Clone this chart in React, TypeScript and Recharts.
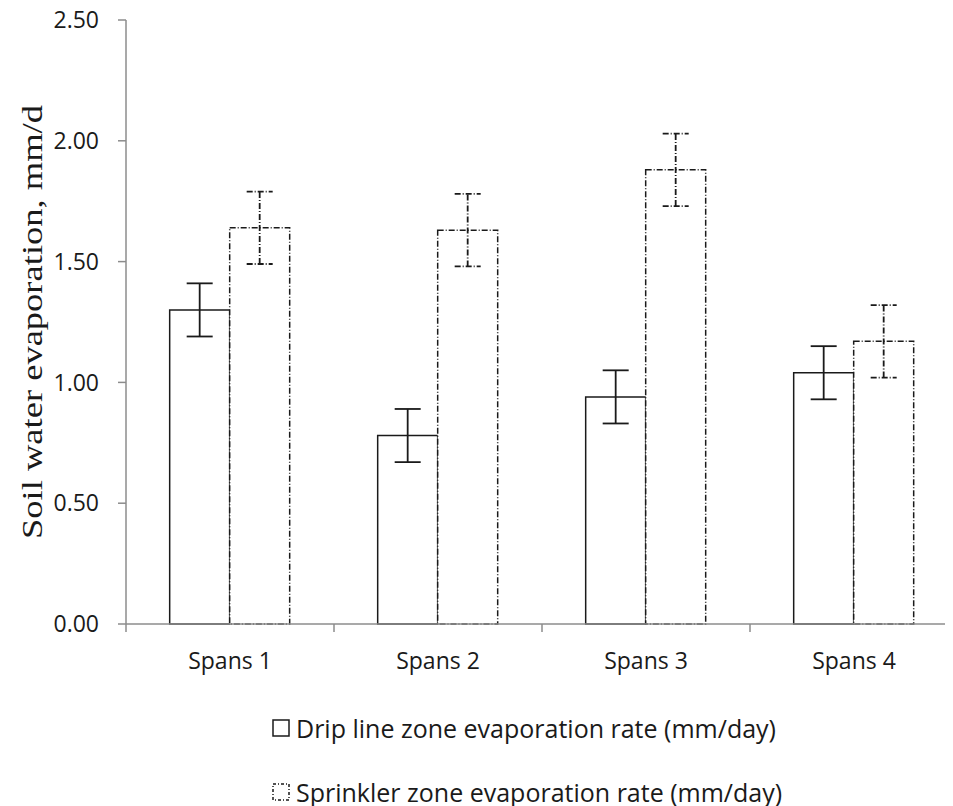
import { BarChart, Bar, XAxis, YAxis, ErrorBar, Legend } from 'recharts';

// Evaporation rate per span, mm/day, with symmetric error
const spans = ['Spans 1', 'Spans 2', 'Spans 3', 'Spans 4'];
const dripRate = [1.3, 0.78, 0.94, 1.04];
const dripErr = [0.11, 0.11, 0.11, 0.11];
const sprinklerRate = [1.64, 1.63, 1.88, 1.17];
const sprinklerErr = [0.15, 0.15, 0.15, 0.15];
const yTicks = [0, 0.5, 1, 1.5, 2, 2.5];

const seriesNames = {
  drip: 'Drip line zone evaporation rate (mm/day)',
  sprinkler: 'Sprinkler zone evaporation rate (mm/day)',
};

const data = spans.map((name, i) => ({
  name,
  drip: dripRate[i],
  dripErr: dripErr[i],
  sprinkler: sprinklerRate[i],
  sprinklerErr: sprinklerErr[i],
}));

const FONT = "'Open Sans', sans-serif";
const INK = '#1a1a1a';
const AXIS = '#8c8c8c';
const DASH = '6 2 1 2';

const CHART_W = 958;
const CHART_H = 806;
const MARGIN = { top: 20, right: 0, left: 8, bottom: 122 };
const Y_AXIS_W = 118;
const X_AXIS_H = 60;
const PLOT_W = CHART_W - Y_AXIS_W - MARGIN.left - MARGIN.right;
const PLOT_BOTTOM = CHART_H - MARGIN.bottom - X_AXIS_H;
const HALF_BAND = PLOT_W / spans.length / 2;

// Category label with tick marks on the band boundaries
const SpanTick = ({ x, y, index, payload }: any) => (
  <g>
    {index === 0 && (
      <line x1={x - HALF_BAND} x2={x - HALF_BAND} y1={PLOT_BOTTOM} y2={PLOT_BOTTOM + 8} stroke={AXIS} strokeWidth={1.5} />
    )}
    <line x1={x + HALF_BAND} x2={x + HALF_BAND} y1={PLOT_BOTTOM} y2={PLOT_BOTTOM + 8} stroke={AXIS} strokeWidth={1.5} />
    <text x={x} y={y} dy="0.71em" textAnchor="middle" fontFamily={FONT} fontSize={23} fill={INK}>
      {payload.value}
    </text>
  </g>
);

const YTitle = ({ viewBox }: any) => {
  const cy = viewBox.y + viewBox.height / 2;
  return (
    <text
      x={31}
      y={cy}
      transform={`rotate(-90, 31, ${cy})`}
      textAnchor="middle"
      dominantBaseline="central"
      fontFamily="'Liberation Serif', 'Times New Roman', serif"
      fontSize={30}
      textLength={434}
      lengthAdjust="spacingAndGlyphs"
      fill={INK}
    >
      Soil water evaporation, mm/d
    </text>
  );
};

const legendRows = [
  { label: seriesNames.drip, dash: undefined },
  { label: seriesNames.sprinkler, dash: '3 2 1 2' },
];

const LegendRows = () => (
  <div style={{ paddingLeft: 272, fontFamily: FONT, fontSize: 25, color: INK }}>
    {legendRows.map((row, i) => (
      <div
        key={row.label}
        style={{ display: 'flex', alignItems: 'center', height: 24, lineHeight: '24px', marginTop: i === 0 ? 0 : 40 }}
      >
        <svg width={18} height={18} style={{ marginRight: 6 }}>
          <rect x={1} y={1} width={16} height={16} fill="none" stroke={INK} strokeWidth={1.5} strokeDasharray={row.dash} />
        </svg>
        <span>{row.label}</span>
      </div>
    ))}
  </div>
);

export default function App() {
  return (
    <div style={{ width: 953, height: CHART_H, marginTop: -8, marginLeft: -8, overflow: 'hidden' }}>
      <BarChart
        width={CHART_W}
        height={CHART_H}
        data={data}
        margin={MARGIN}
        barCategoryGap="21%"
        barGap={0}
      >
        <XAxis
          dataKey="name"
          height={X_AXIS_H}
          axisLine={{ stroke: AXIS, strokeWidth: 1.5 }}
          tickLine={false}
          tickSize={7}
          tickMargin={22}
          tick={<SpanTick />}
          interval={0}
        />
        <YAxis
          width={Y_AXIS_W}
          domain={[0, 2.5]}
          ticks={yTicks}
          interval={0}
          tickFormatter={(v: number) => v.toFixed(2)}
          axisLine={{ stroke: AXIS, strokeWidth: 1.5 }}
          tickLine={{ stroke: AXIS, strokeWidth: 1.5 }}
          tickSize={8}
          tickMargin={19}
          tick={{ fontFamily: FONT, fontSize: 23, fill: INK }}
          label={{ content: <YTitle /> }}
        />
        <Legend
          layout="horizontal"
          verticalAlign="middle"
          wrapperStyle={{ top: 716, left: 0, width: CHART_W }}
          content={<LegendRows />}
        />
        <Bar dataKey="drip" name={seriesNames.drip} fill="#ffffff" stroke={INK} strokeWidth={1.5} isAnimationActive={false}>
          <ErrorBar dataKey="dripErr" width={13} stroke={INK} strokeWidth={1.8} />
        </Bar>
        <Bar
          dataKey="sprinkler"
          name={seriesNames.sprinkler}
          fill="#ffffff"
          stroke={INK}
          strokeWidth={1.5}
          strokeDasharray={DASH}
          isAnimationActive={false}
        >
          <ErrorBar dataKey="sprinklerErr" width={13} stroke={INK} strokeWidth={1.8} strokeDasharray={DASH} />
        </Bar>
      </BarChart>
    </div>
  );
}
